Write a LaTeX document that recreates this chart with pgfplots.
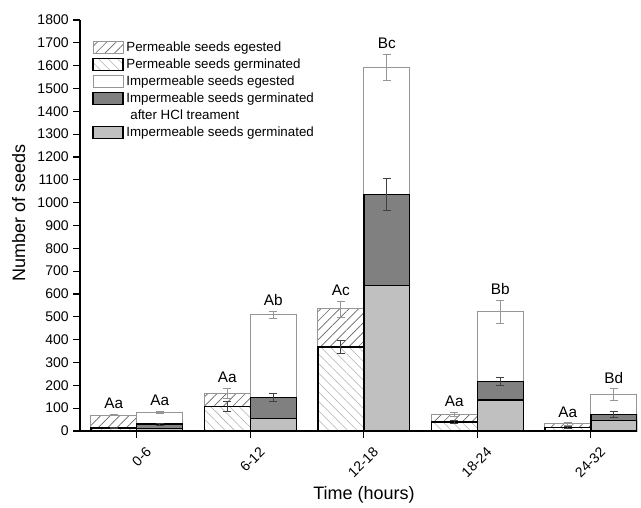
\documentclass[border=0pt]{standalone}
\usepackage{fontspec}
\setmainfont{Liberation Sans}
\usepackage{pgfplots}
\pgfplotsset{compat=1.18}
\usetikzlibrary{patterns.meta}

\definecolor{hclgray}{RGB}{128,128,128}
\definecolor{germgray}{RGB}{192,192,192}
\definecolor{edgegray}{RGB}{150,150,150}

\pgfplotsset{
  errgray/.style={error bars/.cd, y dir=both, y explicit,
    error bar style={edgegray, line width=0.5pt},
    error mark options={rotate=90, mark size=3pt, edgegray, line width=0.5pt}},
  errdark/.style={error bars/.cd, y dir=both, y explicit,
    error bar style={black!75, line width=0.5pt},
    error mark options={rotate=90, mark size=3pt, black!75, line width=0.5pt}},
}
\tikzset{lab/.style={font=\fontsize{11.5}{13}\selectfont, anchor=south, yshift=0.5pt}}

\begin{document}
\begin{tikzpicture}
\path[use as bounding box] (0pt,0pt) rectangle (480.75pt,380.25pt);
\begin{axis}[
  at={(60pt,57pt)}, anchor=south west,
  scale only axis, width=417.75pt, height=308.25pt,
  xmin=-0.5, xmax=4.407, ymin=0, ymax=1800,
  axis x line*=bottom, axis y line*=left,
  axis line style={-, line width=0.9pt},
  ytick={0,100,...,1800},
  xtick={0,1,2,3,4}, xticklabels={0-6,6-12,12-18,18-24,24-32},
  tick align=outside, major tick length=5pt,
  tick style={black, line width=0.8pt},
  /pgf/number format/assume math mode=true,
  /pgf/number format/set thousands separator={},
  ticklabel style={font=\fontsize{10.5}{12}\selectfont},
  xticklabel style={xshift=11.5pt, yshift=-6.5pt, rotate=45, anchor=east},
  ylabel={Number of seeds}, xlabel={Time (hours)},
  label style={font=\fontsize{13.5}{15}\selectfont},
  xlabel style={at={(axis description cs:0.51,0)}, anchor=center, yshift=-48pt},
  ylabel style={at={(axis description cs:-0.11,0.53)}, anchor=center},
  ybar, bar width=0.405,
  legend cell align=left,
  legend style={draw=none, fill=none, at={(0.0215,0.954)}, anchor=north west,
    inner sep=0pt, font=\fontsize{10}{11}\selectfont},
  legend image code/.code={\draw[#1] (0pt,-4.5pt) rectangle (22.5pt,4.5pt);},
]
% permeable seeds egested
\addplot[bar shift=-0.2025, draw=edgegray, line width=0.6pt, fill=white,
  postaction={pattern={Lines[angle=45,distance=5pt,line width=0.5pt]}, pattern color=black!60},
  errgray] coordinates {
  (0,70) +- (0,3)
  (1,165) +- (0,22)
  (2,535) +- (0,35)
  (3,72) +- (0,9)
  (4,32) +- (0,5)
};
\addlegendentry{Permeable seeds egested}
% permeable seeds germinated
\addplot[bar shift=-0.2025, draw=black, line width=1.1pt, fill=white,
  postaction={pattern={Lines[angle=-45,distance=5pt,line width=0.4pt]}, pattern color=black!30},
  errdark] coordinates {
  (0,13) +- (0,3)
  (1,108) +- (0,22)
  (2,367) +- (0,28)
  (3,40) +- (0,5)
  (4,16) +- (0,4)
};
\addlegendentry{Permeable seeds germinated}
% impermeable seeds egested
\addplot[bar shift=0.2025, draw=edgegray, line width=0.6pt, fill=white,
  errgray] coordinates {
  (0,83) +- (0,5)
  (1,510) +- (0,15)
  (2,1592) +- (0,58)
  (3,522) +- (0,50)
  (4,160) +- (0,25)
};
\addlegendentry{Impermeable seeds egested}
% impermeable seeds germinated after HCl
\addplot[bar shift=0.2025, draw=black, line width=1.1pt, fill=hclgray,
  errdark] coordinates {
  (0,30) +- (0,5)
  (1,147) +- (0,17)
  (2,1035) +- (0,70)
  (3,217) +- (0,18)
  (4,72) +- (0,12)
};
\addlegendentry{Impermeable seeds germinated}
\addlegendimage{empty legend}
\addlegendentry{\hspace{0.3em}after HCl treament}
% impermeable seeds germinated
\addplot[bar shift=0.2025, draw=black, line width=1.1pt, fill=germgray] coordinates {
  (0,12)
  (1,55)
  (2,637)
  (3,135)
  (4,47)
};
\addlegendentry{Impermeable seeds germinated}

\node[lab] at (axis cs:-0.2025,73) {Aa};
\node[lab] at (axis cs:0.2025,88) {Aa};
\node[lab] at (axis cs:0.7975,187) {Aa};
\node[lab] at (axis cs:1.2025,525) {Ab};
\node[lab] at (axis cs:1.7975,570) {Ac};
\node[lab] at (axis cs:2.2025,1650) {Bc};
\node[lab] at (axis cs:2.7975,81) {Aa};
\node[lab] at (axis cs:3.2025,572) {Bb};
\node[lab] at (axis cs:3.7975,37) {Aa};
\node[lab] at (axis cs:4.2025,185) {Bd};
\end{axis}
\end{tikzpicture}
\end{document}
